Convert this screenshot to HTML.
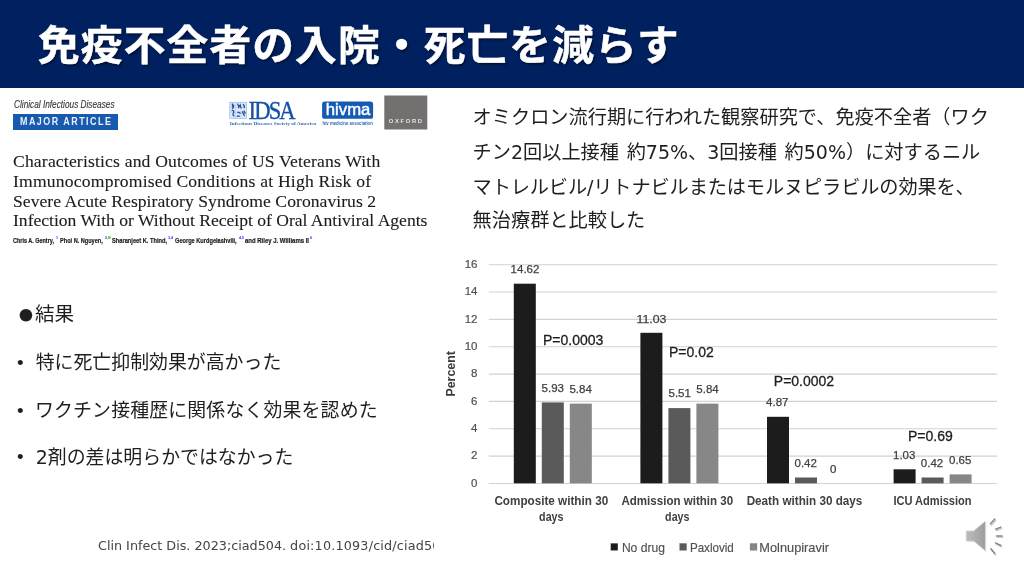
<!DOCTYPE html>
<html lang="ja">
<head>
<meta charset="utf-8">
<title>免疫不全者の入院・死亡を減らす</title>
<style>
html,body{margin:0;padding:0;}
body{width:1024px;height:576px;position:relative;overflow:hidden;background:#fff;font-family:"Liberation Sans","Noto Sans CJK JP",sans-serif;color:#222;}
.abs{position:absolute;white-space:nowrap;}
#hdr{position:absolute;left:0;top:0;width:1024px;height:87.5px;background:#002060;}
#title{left:37.6px;top:14px;font-size:40.5px;line-height:64px;font-weight:700;color:#fff;text-shadow:1.5px 1.5px 2px rgba(0,0,0,.45);letter-spacing:1.1px;-webkit-text-stroke:0.5px #fff;transform-origin:0 50%;transform:scaleX(1.03);}
.jp{font-size:19.2px;line-height:34.2px;color:#1f1f1f;font-weight:400;}
.jp .l{font-family:"DejaVu Sans","Liberation Sans",sans-serif;font-size:19px;}
.lb{font-size:18.9px;}
.lb .bt{position:absolute;left:18.7px;top:0;}
.lb .dot{position:absolute;left:-16.1px;top:-0.4px;font-family:"Noto Sans CJK JP",sans-serif;font-size:13.9px;}
/* article */
#cid{left:13.5px;top:98px;font-size:10px;line-height:14px;font-style:italic;color:#3c3c3c;transform-origin:0 0;transform:scaleX(.826);-webkit-text-stroke:0.15px #3c3c3c;}
#major{left:13px;top:113.6px;width:105px;height:16.4px;background:#175aae;color:#fff;overflow:hidden;}
#major span{position:absolute;left:7.2px;top:0.5px;color:#e9f0fa;font-size:10.4px;line-height:16.8px;font-weight:700;letter-spacing:1.72px;transform-origin:0 0;transform:scaleX(.86);}
.at{left:13px;font-family:"Liberation Serif",serif;font-size:17.6px;line-height:20px;color:#1c1c1c;-webkit-text-stroke:0.12px #1c1c1c;}
#authors{left:0;top:0;}
.au{position:absolute;top:235.6px;font-size:7px;line-height:9px;font-weight:700;color:#1c1c1c;-webkit-text-stroke:0.2px #1c1c1c;transform-origin:0 0;white-space:nowrap;}
.sp{position:absolute;top:234.6px;font-size:4.3px;line-height:6px;font-weight:700;color:#2a2aff;white-space:nowrap;transform-origin:0 0;transform:scaleX(.85);}
.orc{position:absolute;left:108px;top:236px;width:3px;height:3px;border-radius:50%;background:#8fd04a;}
#cite{left:98px;top:536.8px;width:336.2px;overflow:hidden;font-family:"DejaVu Sans","Liberation Sans",sans-serif;font-size:12.75px;line-height:18px;color:#444;}
#chart{filter:blur(0.45px);}
#logos,#cid,#major,.at,#authors{filter:blur(0.35px);}
</style>
</head>
<body>
<div id="hdr"></div>
<div id="title" class="abs">免疫不全者の入院・死亡を減らす</div>

<!-- article clip -->
<div id="cid" class="abs">Clinical Infectious Diseases</div>
<div id="major" class="abs"><span>MAJOR ARTICLE</span></div>
<div class="abs at" style="top:150.9px;letter-spacing:0.17px;">Characteristics and Outcomes of US Veterans With</div>
<div class="abs at" style="top:170.9px;letter-spacing:0.2px;">Immunocompromised Conditions at High Risk of</div>
<div class="abs at" style="top:190.7px;letter-spacing:0.043px;">Severe Acute Respiratory Syndrome Coronavirus 2</div>
<div class="abs at" style="top:210.4px;letter-spacing:-0.014px;">Infection With or Without Receipt of Oral Antiviral Agents</div>
<div id="authors" class="abs"><span class="au" style="left:13.2px;transform:scaleX(0.779);">Chris A. Gentry,</span><span class="au" style="left:59.7px;transform:scaleX(0.797);">Phoi N. Nguyen,</span><span class="au" style="left:112.1px;transform:scaleX(0.814);">Sharanjeet K. Thind,</span><span class="au" style="left:175.3px;transform:scaleX(0.805);">George Kurdgelashvili,</span><span class="au" style="left:244.9px;transform:scaleX(0.853);">and Riley J. Williams II</span><span class="sp" style="left:56.3px;">1</span><span class="sp" style="left:104.6px;">2,3</span><span class="sp" style="left:168.4px;">3,4</span><span class="sp" style="left:239.4px;">4,5</span><span class="sp" style="left:309.8px;">6</span><i class="orc"></i></div>

<!-- logos -->
<svg id="logos" class="abs" style="left:0;top:0;" width="1024" height="576" viewBox="0 0 1024 576">
<g id="idsa" fill="#1652a5">
<rect x="229.8" y="102.2" width="16.8" height="16.3" fill="#dfe8f5" stroke="#7fa1d2" stroke-width="0.5"/>
<path d="M235.4 102.2V118.5M241 102.2V118.5M229.8 107.6H246.6M229.8 113H246.6" stroke="#9db7de" stroke-width="0.4" fill="none"/>
<path d="M232.4 103.4v3.4M233.6 104.6c.4 1.6-.2 3-1.4 4.4M237.6 103.6l1.2 3.6l1.4-2.2l1 3.4M243 104.2c1.2 1 1.8 2.4 1 3.8M231.6 110.8c1.6-1.2 3 .4 1.8 2.4c-.8 1.2-.2 2.4 1 3M237.4 112.6c1-.6 2.4-.6 3 1.2M242.2 111.4l2.4 4.8M243.8 110.6l1.6 3.2M236.8 116.6q1.6-1.4 3 0" stroke="#1652a5" stroke-width="1.25" fill="none"/>
<g transform="translate(248.6,118.6) scale(0.905,1)"><text x="0" y="0" font-family="'Liberation Serif',serif" font-size="25" letter-spacing="-2.1" stroke="#1652a5" stroke-width="0.35">IDSA</text></g>
<text x="229.8" y="124.5" font-family="'Liberation Serif',serif" font-weight="700" font-size="4.9" fill="#3a6db4" textLength="86.4" lengthAdjust="spacingAndGlyphs">Infectious Diseases Society of America</text>
</g>
<g id="hivma">
<rect x="322.1" y="101.6" width="51" height="17.2" rx="2.6" fill="#165bb3"/>
<text x="325.8" y="115.4" font-family="'Liberation Sans',sans-serif" font-size="17" fill="#fff" stroke="#fff" stroke-width="0.45" textLength="44.6" lengthAdjust="spacingAndGlyphs">hivma</text>
<text x="322.6" y="124.7" font-family="'Liberation Sans',sans-serif" font-size="4.9" fill="#2a66b6" font-weight="700" textLength="50.2" lengthAdjust="spacingAndGlyphs">hiv medicine association</text>
</g>
<g id="oxford">
<rect x="384.3" y="95.5" width="43" height="34" fill="#727170"/>
<text x="388.8" y="123.3" font-family="'Liberation Sans',sans-serif" font-weight="700" font-size="5.9" fill="#e2e2e2" textLength="33.3" lengthAdjust="spacing">OXFORD</text>
</g>
</svg>

<!-- right text -->
<div class="abs jp" id="r1" style="left:472.6px;top:100.6px;">オミクロン流行期に行われた観察研究で、免疫不全者（ワク</div>
<div class="abs jp" id="r2" style="left:472.6px;top:135.3px;word-spacing:2.3px;">チン<span class="l">2</span>回以上接種 約<span class="l">75%</span>、<span class="l">3</span>回接種 約<span class="l">50%</span>）に対するニル</div>
<div class="abs jp" id="r3" style="left:472.6px;top:169.8px;letter-spacing:-0.12px;">マトレルビル<span class="l">/</span>リトナビルまたはモルヌピラビルの効果を、</div>
<div class="abs jp" id="r4" style="left:472.6px;top:204px;">無治療群と比較した</div>

<!-- left bullets -->
<div class="abs jp lb" id="b0" style="left:35px;top:297.3px;font-size:19.6px;"><span class="dot">●</span>結果</div>
<div class="abs jp lb" id="b1" style="left:17px;top:345.6px;">•<span class="bt">特に死亡抑制効果が高かった</span></div>
<div class="abs jp lb" id="b2" style="left:17px;top:393.8px;">•<span class="bt" style="left:18px;letter-spacing:0.15px;">ワクチン接種歴に関係なく効果を認めた</span></div>
<div class="abs jp lb" id="b3" style="left:17px;top:439.9px;">•<span class="bt"><span class="l">2</span>剤の差は明らかではなかった</span></div>

<!-- chart -->
<svg id="chart" class="abs" style="left:0;top:0;" width="1024" height="576" viewBox="0 0 1024 576" font-family="'Liberation Sans',sans-serif">
<g stroke="#d2d2d2" stroke-width="1.1">
<line x1="488.8" y1="483.5" x2="997" y2="483.5"/>
<line x1="488.8" y1="456.1" x2="997" y2="456.1"/>
<line x1="488.8" y1="428.8" x2="997" y2="428.8"/>
<line x1="488.8" y1="401.4" x2="997" y2="401.4"/>
<line x1="488.8" y1="374.1" x2="997" y2="374.1"/>
<line x1="488.8" y1="346.8" x2="997" y2="346.8"/>
<line x1="488.8" y1="319.4" x2="997" y2="319.4"/>
<line x1="488.8" y1="292.0" x2="997" y2="292.0"/>
<line x1="488.8" y1="264.7" x2="997" y2="264.7"/>
</g>
<g font-size="11.5" fill="#505050" stroke="#505050" stroke-width="0.2" text-anchor="end">
<text x="477.5" y="486.8">0</text>
<text x="477.5" y="459.4">2</text>
<text x="477.5" y="432.1">4</text>
<text x="477.5" y="404.8">6</text>
<text x="477.5" y="377.4">8</text>
<text x="477.5" y="350.1">10</text>
<text x="477.5" y="322.7">12</text>
<text x="477.5" y="295.3">14</text>
<text x="477.5" y="268.0">16</text>
</g>
<text transform="translate(455.2,373.8) rotate(-90)" text-anchor="middle" font-size="13.2" font-weight="700" fill="#3c3c3c" textLength="45.5" lengthAdjust="spacingAndGlyphs">Percent</text>
<rect x="513.8" y="283.7" width="22" height="199.6" fill="#1c1c1c"/>
<rect x="541.8" y="402.4" width="22" height="80.9" fill="#5a5a5a"/>
<rect x="569.8" y="403.6" width="22" height="79.7" fill="#878787"/>
<rect x="640.4" y="332.8" width="22" height="150.5" fill="#1c1c1c"/>
<rect x="668.4" y="408.1" width="22" height="75.2" fill="#5a5a5a"/>
<rect x="696.4" y="403.6" width="22" height="79.7" fill="#878787"/>
<rect x="767.0" y="416.8" width="22" height="66.5" fill="#1c1c1c"/>
<rect x="795.0" y="477.5" width="22" height="5.8" fill="#5a5a5a"/>
<rect x="893.6" y="469.3" width="22" height="14.0" fill="#1c1c1c"/>
<rect x="921.6" y="477.5" width="22" height="5.8" fill="#5a5a5a"/>
<rect x="949.6" y="474.4" width="22" height="8.9" fill="#878787"/>
<g font-size="11.5" fill="#404040" stroke="#404040" stroke-width="0.25" text-anchor="middle">
<text x="525" y="273.0">14.62</text>
<text x="552.8" y="392.2">5.93</text>
<text x="580.6" y="393.1">5.84</text>
<text x="651.5" y="322.8" textLength="30" lengthAdjust="spacingAndGlyphs">11.03</text>
<text x="679.7" y="397.2">5.51</text>
<text x="707.5" y="393.1">5.84</text>
<text x="777.3" y="406.0">4.87</text>
<text x="805.7" y="467.4">0.42</text>
<text x="833.3" y="472.8">0</text>
<text x="904.2" y="459.0">1.03</text>
<text x="932" y="467.4">0.42</text>
<text x="960.2" y="464.0">0.65</text>
</g>
<g font-size="14" fill="#1f1f1f" stroke="#1f1f1f" stroke-width="0.3">
<text x="543" y="344.5">P=0.0003</text>
<text x="669" y="357.2">P=0.02</text>
<text x="773.8" y="386.2">P=0.0002</text>
<text x="908" y="441.2">P=0.69</text>
</g>
<g font-size="12.6" font-weight="700" fill="#404040" text-anchor="middle" lengthAdjust="spacingAndGlyphs">
<text x="551.3" y="505.4" textLength="113.8" lengthAdjust="spacingAndGlyphs">Composite within 30</text>
<text x="551.3" y="521.2" textLength="24.4" lengthAdjust="spacingAndGlyphs">days</text>
<text x="677.3" y="505.4" textLength="111.7" lengthAdjust="spacingAndGlyphs">Admission within 30</text>
<text x="677.3" y="521.2" textLength="24.4" lengthAdjust="spacingAndGlyphs">days</text>
<text x="804.5" y="505.4" textLength="115.7" lengthAdjust="spacingAndGlyphs">Death within 30 days</text>
<text x="932.5" y="505.4" textLength="78.2" lengthAdjust="spacingAndGlyphs">ICU Admission</text>
</g>
<g font-size="12.8" fill="#505050" stroke="#505050" stroke-width="0.15">
<rect x="610.8" y="543.4" width="7" height="7" fill="#1c1c1c"/><text x="621.9" y="551.5" textLength="43" lengthAdjust="spacingAndGlyphs">No drug</text>
<rect x="679.6" y="543.4" width="7" height="7" fill="#5a5a5a"/><text x="689.9" y="551.5" textLength="43.9" lengthAdjust="spacingAndGlyphs">Paxlovid</text>
<rect x="750" y="543.4" width="7" height="7" fill="#878787"/><text x="759.3" y="551.5" textLength="69.7" lengthAdjust="spacingAndGlyphs">Molnupiravir</text>
</g>
</svg>

<!-- audio icon -->
<svg id="spk" class="abs" style="left:944px;top:500px;" width="80" height="76" viewBox="944 500 80 76">
<defs><linearGradient id="sg" x1="0" y1="0" x2="1" y2="0"><stop offset="0" stop-color="#bdbdbd"/><stop offset="1" stop-color="#9c9c9c"/></linearGradient>
<filter id="sf" x="-20%" y="-20%" width="150%" height="150%"><feGaussianBlur stdDeviation="0.7"/></filter></defs>
<path d="M966 530.8H973.6L985.4 521V551L973.6 541H966Z" fill="#d8d8d8" filter="url(#sf)" transform="translate(0.8,0.9)"/>
<path d="M966 530.8H973.6L985.4 521V551L973.6 541H966Z" fill="url(#sg)" stroke="#e9e9e9" stroke-width="0.6"/>
<g stroke="#cfcfcf" stroke-width="1.6" stroke-linecap="round" transform="translate(0.9,1.3)">
<path d="M990.5 523.8L994.8 519.1M995.7 529.3L1000.8 527.1M996.5 535.9H1002.1M995.5 542.9L1000.8 545.5M990.9 548.8L994.8 553.5"/></g>
<g stroke="#878787" stroke-width="1.5" stroke-linecap="round">
<path d="M990.5 523.8L994.8 519.1M995.7 529.3L1000.8 527.1M996.5 535.9H1002.1M995.5 542.9L1000.8 545.5M990.9 548.8L994.8 553.5"/></g>
</svg>

<div id="cite" class="abs">Clin Infect Dis. 2023;ciad504. <span style="letter-spacing:0.19px;">doi:10.1093/cid/ciad504.</span></div>
</body>
</html>
